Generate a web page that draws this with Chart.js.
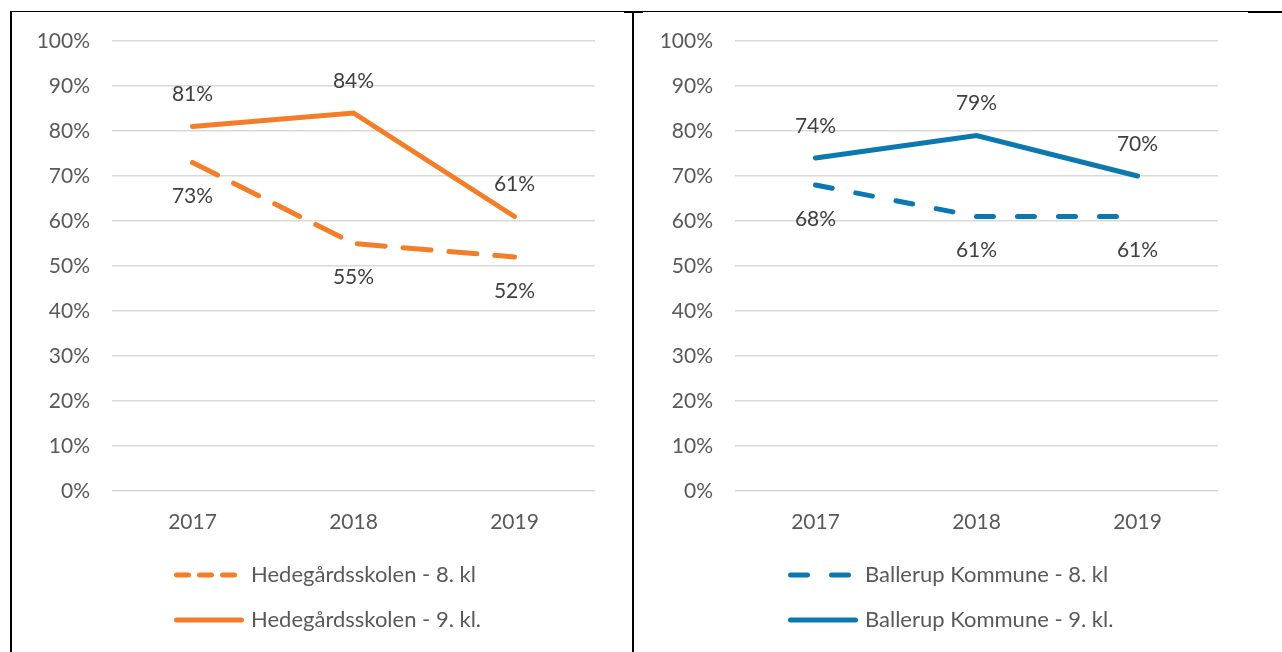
<!DOCTYPE html>
<html>
<head>
<meta charset="utf-8">
<script src="https://cdn.jsdelivr.net/npm/chart.js@4"></script>
<style>
  body { margin: 0; background: #fff; width: 1282px; height: 652px; position: relative; overflow: hidden; }
  .rule { position: absolute; background: #000; }
  canvas { position: absolute; top: 12px; }
</style>
</head>
<body>
<!-- table rules around the two charts -->
<div class="rule" style="left:10px; top:11px; width:1238px; height:1px"></div>
<div class="rule" style="left:10px; top:11px; width:2px; height:641px"></div>
<div class="rule" style="left:632px; top:11px; width:2px; height:641px"></div>
<div class="rule" style="left:624px; top:11px; width:19px; height:2px"></div>
<div class="rule" style="left:1248px; top:11px; width:34px; height:2px"></div>

<canvas id="skole" width="620" height="640" style="left:12px"></canvas>
<canvas id="kommune" width="620" height="640" style="left:635px"></canvas>

<script>
// years on the x axis
const years = ['2017', '2018', '2019'];

// Hedegårdsskolen
const skole8 = [73, 55, 52];
const skole9 = [81, 84, 61];
const skoleNames = ['Hedegårdsskolen - 8. kl', 'Hedegårdsskolen - 9. kl.'];

// Ballerup Kommune
const kommune8 = [68, 61, 61];
const kommune9 = [74, 79, 70];
const kommuneNames = ['Ballerup Kommune - 8. kl', 'Ballerup Kommune - 9. kl.'];

const FONT = 'Lato';

// percentage above/below each point
const valueLabels = {
    id: 'valueLabels',
    afterDatasetsDraw(chart) {
        const ctx = chart.ctx;
        ctx.save();
        ctx.font = `21px ${FONT}`;
        ctx.fillStyle = '#404040';
        ctx.textAlign = 'center';
        ctx.textBaseline = 'middle';
        chart.data.datasets.forEach((ds, i) => {
            chart.getDatasetMeta(i).data.forEach((pt, j) => {
                ctx.fillText(ds.data[j] + '%', pt.x, pt.y + ds.labelOffset);
            });
        });
        ctx.restore();
    }
};

// stacked legend under the axis, entries left aligned, block centred
const lineLegend = {
    id: 'lineLegend',
    afterDraw(chart) {
        const ctx = chart.ctx;
        const sets = chart.data.datasets;
        ctx.save();
        ctx.font = `22px ${FONT}`;
        const textW = Math.max(...sets.map((ds) => ctx.measureText(ds.label).width));
        const x0 = Math.round(316 - (77 + textW) / 2);
        sets.forEach((ds, i) => {
            const y = chart.chartArea.bottom + 84 + i * 45;
            ctx.strokeStyle = ds.borderColor;
            ctx.lineWidth = 5;
            ctx.lineCap = 'round';
            ctx.setLineDash(ds.legendDash || []);
            ctx.beginPath();
            ctx.moveTo(x0 + 2.5, y);
            ctx.lineTo(x0 + (ds.legendDash ? 62.5 : 67.5), y);
            ctx.stroke();
            ctx.setLineDash([]);
            ctx.fillStyle = '#595959';
            ctx.textBaseline = 'middle';
            ctx.fillText(ds.label, x0 + 77, y);
        });
        ctx.restore();
    }
};

const makeChart = (id, lower, upper, names, color, dash, legendDash) => {
    return new Chart(document.getElementById(id), {
        type: 'line',
        data: {
            labels: years,
            datasets: [
                {
                    label: names[0],
                    data: lower,
                    borderColor: color,
                    borderWidth: 5,
                    borderDash: dash,
                    borderCapStyle: 'round',
                    pointRadius: 0,
                    labelOffset: 34,
                    legendDash: legendDash,
                },
                {
                    label: names[1],
                    data: upper,
                    borderColor: color,
                    borderWidth: 5,
                    borderCapStyle: 'round',
                    pointRadius: 0,
                    labelOffset: -32,
                },
            ],
        },
        options: {
            responsive: false,
            animation: false,
            layout: { padding: { top: 29, right: 37, bottom: 0, left: 0 } },
            plugins: {
                legend: { display: false },
                tooltip: { enabled: false },
            },
            scales: {
                x: {
                    offset: true,
                    grid: { display: false },
                    border: { display: false },
                    ticks: { color: '#595959', font: { family: FONT, size: 21 }, padding: 11 },
                    afterFit: (scale) => { scale.height = 161; },
                },
                y: {
                    min: 0,
                    max: 100,
                    // invisible tick marks keep the labels clear of the grid
                    grid: { color: '#D9D9D9', lineWidth: 1.5, tickLength: 22, tickColor: 'rgba(0,0,0,0)' },
                    border: { display: false },
                    ticks: {
                        stepSize: 10,
                        color: '#595959',
                        font: { family: FONT, size: 21 },
                        padding: 0,
                        callback: (v) => v + '%',
                    },
                    afterFit: (scale) => { scale.width = 100; },
                },
            },
        },
        plugins: [valueLabels, lineLegend],
    });
};

makeChart('skole', skole8, skole9, skoleNames, '#F47D28', [28, 18], [12, 11]);
makeChart('kommune', kommune8, kommune9, kommuneNames, '#0B78AF', [17, 24], [17, 24]);
</script>
</body>
</html>
